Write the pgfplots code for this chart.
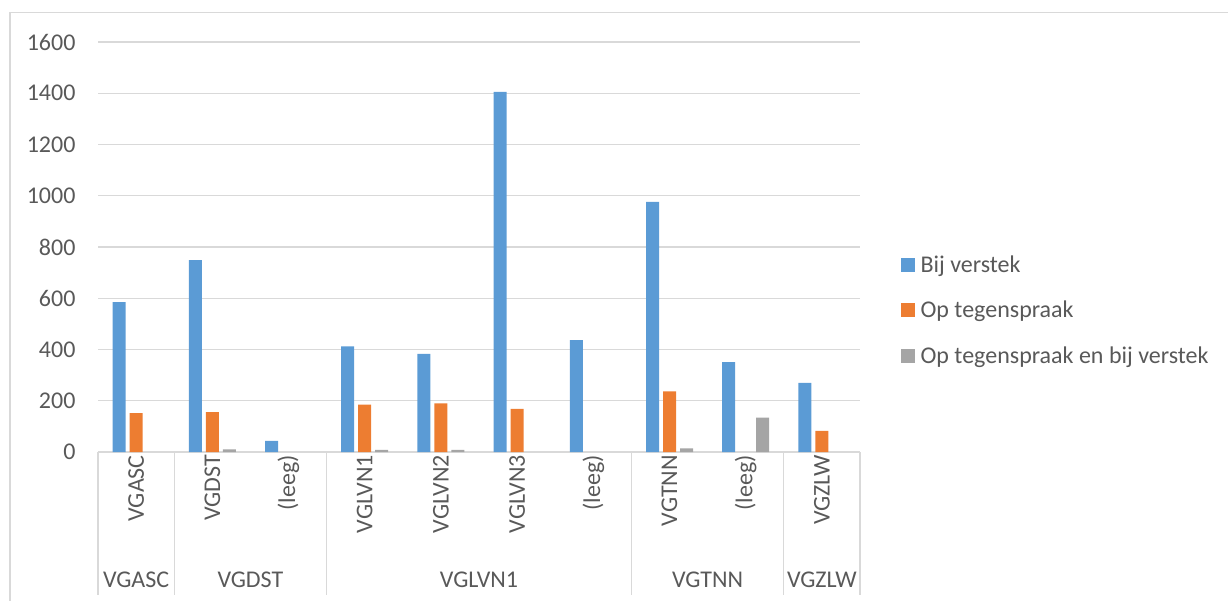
\documentclass[border=0pt]{standalone}
\usepackage{pgfplots}
\pgfplotsset{compat=1.18}
\usepackage{fontspec}
\setmainfont{Carlito}
\definecolor{cblue}{HTML}{5B9BD5}
\definecolor{corange}{HTML}{ED7D31}
\definecolor{cgray}{HTML}{A5A5A5}
\definecolor{ctext}{HTML}{595959}
\definecolor{cgrid}{HTML}{D9D9D9}
\newcommand{\chfont}{\fontsize{24}{28}\selectfont}
\begin{document}
\begin{tikzpicture}[x=1pt,y=1pt]
\useasboundingbox (0,0) rectangle (1228,-601);
\draw[cgrid, line width=1.3pt] (10,-601) -- (10,-12.5) -- (1228,-12.5);
\begin{axis}[
  at={(98pt,-452pt)}, anchor=south west,
  scale only axis, width=762pt, height=410pt,
  xmin=-0.5, xmax=9.5, ymin=0, ymax=1600,
  ytick={0,200,...,1600},
  xtick={0,...,9},
  xticklabels={VGASC,VGDST,(leeg),VGLVN1,VGLVN2,VGLVN3,(leeg),VGTNN,(leeg),VGZLW},
  x tick label style={rotate=90, anchor=east, font=\chfont, text=ctext, inner sep=3pt},
  y tick label style={font=\chfont, text=ctext, xshift=-19pt},
  /pgf/number format/assume math mode=true,
  /pgf/number format/1000 sep={},
  major tick length=0pt,
  ymajorgrids, grid style={cgrid, line width=1.3pt},
  axis x line*=bottom, axis y line*=left,
  x axis line style={cgrid, line width=1.3pt, -},
  y axis line style={draw=none},
  clip=false,
  ybar=4pt, bar width=13pt,
  legend style={at={(1.049,0.488)}, anchor=north west, draw=none, fill=none,
    font=\chfont, text=ctext, row sep=23pt, legend cell align=left,
    /tikz/every even column/.append style={column sep=0pt}},
  legend image code/.code={\fill[#1] (0pt,-7pt) rectangle (14pt,7pt); \path (18pt,0pt);},
]
\addplot[fill=cblue, draw=none] coordinates {(0,585) (1,749) (2,43) (3,412) (4,383) (5,1405) (6,437) (7,976) (8,351) (9,270)};
\addplot[fill=corange, draw=none] coordinates {(0,152) (1,156) (3,185) (4,190) (5,168) (7,237) (9,82)};
\addplot[fill=cgray, draw=none] coordinates {(1,10) (3,8) (4,8) (7,14) (8,134)};
\legend{Bij verstek, Op tegenspraak, Op tegenspraak en bij verstek}
\pgfplotsinvokeforeach{-0.5,0.5,2.5,6.5,8.5,9.5}{
  \draw[cgrid, line width=1.3pt] (axis cs:#1,0) -- ++(0pt,-143pt);
}
\node[font=\chfont, text=ctext] at ([yshift=-128pt]axis cs:0,0) {VGASC};
\node[font=\chfont, text=ctext] at ([yshift=-128pt]axis cs:1.5,0) {VGDST};
\node[font=\chfont, text=ctext] at ([yshift=-128pt]axis cs:4.5,0) {VGLVN1};
\node[font=\chfont, text=ctext] at ([yshift=-128pt]axis cs:7.5,0) {VGTNN};
\node[font=\chfont, text=ctext] at ([yshift=-128pt]axis cs:9,0) {VGZLW};
\end{axis}
\end{tikzpicture}
\end{document}
